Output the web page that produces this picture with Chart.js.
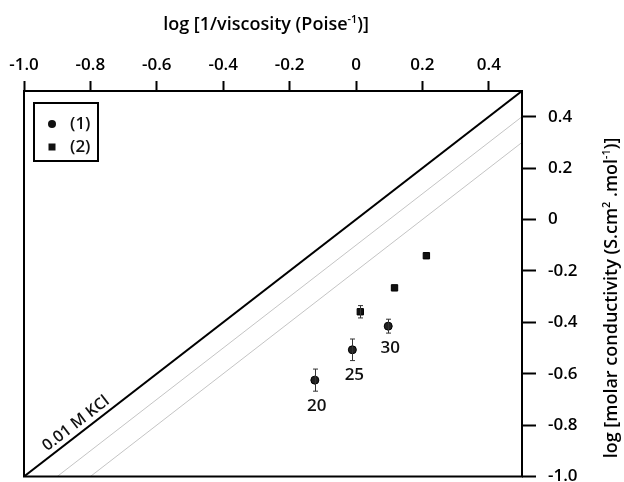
<!DOCTYPE html>
<html>
<head>
<meta charset="utf-8">
<script src="https://cdn.jsdelivr.net/npm/chart.js@4.4.1/dist/chart.umd.min.js"></script>
<style>
  html, body { margin: 0; padding: 0; background: #fff; }
  canvas { display: block; }
</style>
</head>
<body>
<canvas id="chart" width="624" height="482"></canvas>
<script>
// axis ticks
const xTicks = [-1.0, -0.8, -0.6, -0.4, -0.2, 0, 0.2, 0.4];
const xTickLabels = ['-1.0', '-0.8', '-0.6', '-0.4', '-0.2', '0', '0.2', '0.4'];
const yTicks = [-1.0, -0.8, -0.6, -0.4, -0.2, 0, 0.2, 0.4];
const yTickLabels = ['-1.0', '-0.8', '-0.6', '-0.4', '-0.2', '0', '0.2', '0.4'];

// series (1): circles, with temperatures
const tempLabels = ['20', '25', '30'];
const series1X = [-0.124, -0.011, 0.097];
const series1Y = [-0.625, -0.507, -0.415];
const series1Err = [0.043, 0.042, 0.027];

// series (2): squares
const series2X = [0.013, 0.116, 0.212];
const series2Y = [-0.359, -0.266, -0.141];
const series2Err = [0.024, 0, 0];

// reference lines
const kclX = [-1.0, 0.5];
const kclY = [-1.0, 0.5];
const ref1X = [-0.9, 0.5];
const ref1Y = [-1.0, 0.4];
const ref2X = [-0.8, 0.5];
const ref2Y = [-1.0, 0.3];

const FONT = 'Open Sans';
const WEIGHT = '600';

function fontStr(size) {
  return WEIGHT + ' ' + size + 'px "' + FONT + '"';
}

function toPoints(xs, ys) {
  return xs.map((x, i) => ({ x: x, y: ys[i] }));
}

// draw text pieces, some of them superscript
function richText(ctx, parts, x, y, size) {
  let widths = parts.map(p => {
    ctx.font = fontStr(p.sup ? size * 0.6 : size);
    return ctx.measureText(p.t).width;
  });
  let total = widths.reduce((a, b) => a + b, 0);
  let cx = x - total / 2;
  parts.forEach((p, i) => {
    ctx.font = fontStr(p.sup ? size * 0.6 : size);
    ctx.fillText(p.t, cx, p.sup ? y - size * 0.38 : y);
    cx += widths[i];
  });
}

const extras = {
  id: 'extras',
  afterDatasetsDraw(chart) {
    const ctx = chart.ctx;
    const xs = chart.scales.x;
    const ys = chart.scales.y;
    const area = chart.chartArea;
    ctx.save();

    // error bars
    ctx.strokeStyle = '#333';
    ctx.lineWidth = 1;
    const errs = [[series1X, series1Y, series1Err], [series2X, series2Y, series2Err]];
    errs.forEach(([sx, sy, se]) => {
      sx.forEach((x, i) => {
        if (!se[i]) return;
        const px = Math.round(xs.getPixelForValue(x)) + 0.5;
        const top = ys.getPixelForValue(sy[i] + se[i]);
        const bot = ys.getPixelForValue(sy[i] - se[i]);
        ctx.beginPath();
        ctx.moveTo(px, top); ctx.lineTo(px, bot);
        ctx.moveTo(px - 2.5, top); ctx.lineTo(px + 2.5, top);
        ctx.moveTo(px - 2.5, bot); ctx.lineTo(px + 2.5, bot);
        ctx.stroke();
      });
    });

    // temperature labels under series (1)
    ctx.fillStyle = '#111';
    ctx.font = fontStr(17);
    ctx.textAlign = 'center';
    ctx.textBaseline = 'middle';
    tempLabels.forEach((t, i) => {
      const px = xs.getPixelForValue(series1X[i]) + 2;
      const py = ys.getPixelForValue(series1Y[i] - series1Err[i]) + 15;
      ctx.fillText(t, px, py);
    });

    // label along the KCl line
    const x0 = xs.getPixelForValue(kclX[0]), y0 = ys.getPixelForValue(kclY[0]);
    const x1 = xs.getPixelForValue(kclX[1]), y1 = ys.getPixelForValue(kclY[1]);
    const ang = Math.atan2(y1 - y0, x1 - x0);
    ctx.save();
    ctx.translate(xs.getPixelForValue(-0.825), ys.getPixelForValue(-0.825));
    ctx.rotate(ang);
    ctx.font = fontStr(16);
    ctx.fillText('0.01 M KCl', 0, -10);
    ctx.restore();

    // frame
    ctx.strokeStyle = '#000';
    ctx.lineWidth = 2;
    ctx.strokeRect(area.left, area.top, area.right - area.left, area.bottom - area.top);

    // legend box
    const lx = area.left + 10, ly = area.top + 12;
    ctx.lineWidth = 2;
    ctx.strokeRect(lx, ly, 64, 58);
    ctx.fillStyle = '#111';
    ctx.beginPath();
    ctx.arc(lx + 18, ly + 21, 4, 0, Math.PI * 2);
    ctx.fill();
    ctx.fillRect(lx + 14.5, ly + 40.5, 7, 7);
    ctx.font = fontStr(17);
    ctx.textAlign = 'left';
    ctx.fillText('(1)', lx + 36, ly + 21);
    ctx.fillText('(2)', lx + 36, ly + 44);

    // axis titles
    ctx.fillStyle = '#000';
    ctx.textAlign = 'left';
    ctx.textBaseline = 'alphabetic';
    richText(ctx, [{ t: 'log [1/viscosity (Poise' }, { t: '-1', sup: true }, { t: ')]' }], 266, 30, 18);
    ctx.save();
    ctx.translate(617, 298);
    ctx.rotate(-Math.PI / 2);
    richText(ctx, [
      { t: 'log [molar conductivity (S.cm' }, { t: '2', sup: true },
      { t: ' .mol' }, { t: '-1', sup: true }, { t: ')]' }
    ], 0, 0, 18);
    ctx.restore();

    ctx.restore();
  }
};

const ctx = document.getElementById('chart').getContext('2d');

const data = {
  datasets: [
    {
      type: 'line',
      data: toPoints(kclX, kclY),
      borderColor: '#000',
      borderWidth: 2,
      pointRadius: 0,
      fill: false
    },
    {
      type: 'line',
      data: toPoints(ref1X, ref1Y),
      borderColor: '#c4c4c4',
      borderWidth: 1,
      pointRadius: 0,
      fill: false
    },
    {
      type: 'line',
      data: toPoints(ref2X, ref2Y),
      borderColor: '#c4c4c4',
      borderWidth: 1,
      pointRadius: 0,
      fill: false
    },
    {
      label: '(1)',
      data: toPoints(series1X, series1Y),
      pointStyle: 'circle',
      pointRadius: 4,
      backgroundColor: '#222',
      borderColor: '#000',
      borderWidth: 1
    },
    {
      label: '(2)',
      data: toPoints(series2X, series2Y),
      pointStyle: 'rect',
      pointRadius: 4.5,
      backgroundColor: '#111',
      borderColor: '#000',
      borderWidth: 1
    }
  ]
};

const config = {
  type: 'scatter',
  data: data,
  options: {
    responsive: false,
    animation: false,
    layout: { padding: { left: 24, right: 0, top: 0, bottom: 4 } },
    scales: {
      x: {
        type: 'linear',
        position: 'top',
        min: -1.0,
        max: 0.5,
        afterBuildTicks: (scale) => { scale.ticks = xTicks.map(v => ({ value: v })); },
        afterFit: (scale) => {
          scale.height = 91;
          scale.paddingLeft = 0;
          scale.paddingRight = 0;
        },
        ticks: {
          callback: (value) => xTickLabels[xTicks.indexOf(value)],
          font: { family: FONT, size: 17, weight: WEIGHT },
          color: '#000',
          padding: 6,
          maxRotation: 0,
          autoSkip: false
        },
        grid: { drawOnChartArea: false, tickLength: 10, tickWidth: 2, color: '#000' },
        border: { display: false }
      },
      y: {
        type: 'linear',
        position: 'right',
        min: -1.0,
        max: 0.5,
        afterBuildTicks: (scale) => { scale.ticks = yTicks.map(v => ({ value: v })); },
        afterFit: (scale) => {
          scale.width = 102;
          scale.paddingTop = 0;
          scale.paddingBottom = 0;
        },
        ticks: {
          callback: (value) => yTickLabels[yTicks.indexOf(value)],
          font: { family: FONT, size: 17, weight: WEIGHT },
          color: '#000',
          padding: 12,
          autoSkip: false
        },
        grid: { drawOnChartArea: false, tickLength: 14, tickWidth: 2, color: '#000' },
        border: { display: false }
      }
    },
    plugins: {
      legend: { display: false },
      tooltip: { enabled: false }
    }
  },
  plugins: [extras]
};

const chart = new Chart(ctx, config);
</script>
</body>
</html>
